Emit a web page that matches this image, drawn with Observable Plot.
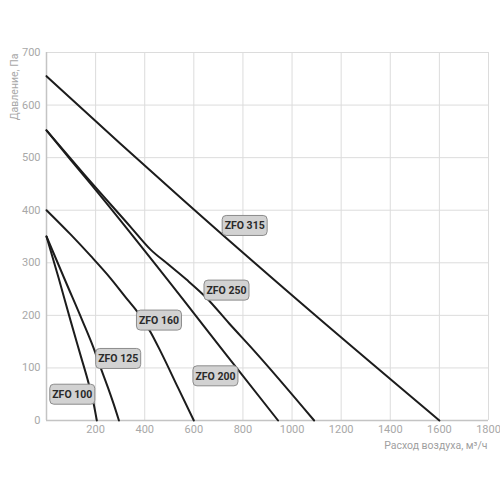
<!DOCTYPE html>
<html>
<head>
<meta charset="utf-8">
<script src="https://cdn.jsdelivr.net/npm/d3@7"></script>
<script src="https://cdn.jsdelivr.net/npm/@observablehq/plot@0.6"></script>
<style>
  html, body { margin: 0; padding: 0; background: #fff; }
</style>
</head>
<body>
<div id="chart"></div>
<script>
// Flow (m³/h) and pressure (Pa) for each fan curve
const zfo100Flow = [0, 50, 98, 140, 172, 192, 205];
const zfo100Pressure = [350, 270, 190, 122, 70, 32, 0];

const zfo125Flow = [0, 80, 146, 190, 220, 250, 273, 295];
const zfo125Pressure = [350, 262, 190, 140, 101, 63, 32, 0];

const zfo160Flow = [0, 100, 180, 260, 330, 365, 424, 465, 535, 600];
const zfo160Pressure = [400, 353, 313, 271, 230, 210, 168, 131, 63, 0];

const zfo200Flow = [0, 100, 180, 560, 722, 943];
const zfo200Pressure = [552, 495, 450, 228, 131, 0];

const zfo250Flow = [0, 150, 343, 424, 493, 570, 650, 745, 845, 1090];
const zfo250Pressure = [552, 470, 368, 325, 298, 268, 234, 184, 133, 0];

const zfo315Flow = [0, 300, 560, 1040, 1600];
const zfo315Pressure = [655, 527, 418, 222, 0];

// Label boxes
const labelNames = ["ZFO 100", "ZFO 125", "ZFO 160", "ZFO 200", "ZFO 250", "ZFO 315"];
const labelFlow = [105, 292, 458, 688, 733, 807];
const labelPressure = [50, 118, 191, 85, 248, 371];

const xTicks = [200, 400, 600, 800, 1000, 1200, 1400, 1600, 1800];
const yTicks = [0, 100, 200, 300, 400, 500, 600, 700];
const xLabel = "Расход воздуха, м³/ч";
const yLabel = "Давление, Па";

const seriesDefs = [
  ["ZFO 100", zfo100Flow, zfo100Pressure],
  ["ZFO 125", zfo125Flow, zfo125Pressure],
  ["ZFO 160", zfo160Flow, zfo160Pressure],
  ["ZFO 200", zfo200Flow, zfo200Pressure],
  ["ZFO 250", zfo250Flow, zfo250Pressure],
  ["ZFO 315", zfo315Flow, zfo315Pressure]
];
const curves = seriesDefs.flatMap(([name, fx, py]) => fx.map((f, i) => ({name, flow: f, pressure: py[i]})));
const labels = labelNames.map((n, i) => ({name: n, flow: labelFlow[i], pressure: labelPressure[i]}));

// rounded-rectangle symbol for the label boxes
const roundRect = {
  draw(ctx) {
    const w = 45, h = 20, r = 4;
    const x0 = -w / 2, x1 = w / 2, y0 = -h / 2, y1 = h / 2;
    ctx.moveTo(x0 + r, y0);
    ctx.lineTo(x1 - r, y0);
    ctx.arcTo(x1, y0, x1, y0 + r, r);
    ctx.lineTo(x1, y1 - r);
    ctx.arcTo(x1, y1, x1 - r, y1, r);
    ctx.lineTo(x0 + r, y1);
    ctx.arcTo(x0, y1, x0, y1 - r, r);
    ctx.lineTo(x0, y0 + r);
    ctx.arcTo(x0, y0, x0 + r, y0, r);
    ctx.closePath();
  }
};

const chart = Plot.plot({
  width: 500,
  height: 500,
  marginLeft: 46,
  marginRight: 12,
  marginTop: 52,
  marginBottom: 80,
  style: {fontFamily: "Roboto, 'DejaVu Sans', sans-serif", fontSize: "11px", background: "#fff", overflow: "visible"},
  x: {domain: [0, 1800]},
  y: {domain: [0, 700]},
  marks: [
    Plot.gridX(xTicks, {stroke: "#dcdcdc", strokeOpacity: 1, strokeWidth: 1}),
    Plot.gridY(yTicks, {stroke: "#dcdcdc", strokeOpacity: 1, strokeWidth: 1}),
    Plot.ruleX([0], {stroke: "#c4c4c4", strokeWidth: 1.5}),
    Plot.ruleY([0], {stroke: "#c4c4c4", strokeWidth: 1.5}),
    Plot.axisX(xTicks, {tickSize: 0, tickPadding: 5, tickFormat: "d", fill: "#a8a8a8", fontSize: 11, label: null}),
    Plot.axisY(yTicks, {tickSize: 0, tickPadding: 6, tickFormat: "d", fill: "#a8a8a8", fontSize: 11, label: null}),
    Plot.line(curves, {x: "flow", y: "pressure", z: "name", stroke: "#1c1c1c", strokeWidth: 2, curve: "monotone-x"}),
    Plot.dot(labels, {x: "flow", y: "pressure", symbol: roundRect, r: 10, fill: "#d2d2d2", stroke: "#8c8c8c", strokeWidth: 1}),
    Plot.text(labels, {x: "flow", y: "pressure", text: "name", fill: "#2a2a2a", fontSize: 10.5, fontWeight: "bold", dy: 0.5}),
    Plot.text([yLabel], {frameAnchor: "top-left", rotate: -90, textAnchor: "end", dx: -36, dy: 1, fill: "#a8a8a8", fontSize: 10.5}),
    Plot.text([xLabel], {frameAnchor: "bottom-right", textAnchor: "end", dy: 28, dx: -1, fill: "#a0a0a0", fontSize: 10.5})
  ]
});
document.getElementById("chart").appendChild(chart);
</script>
</body>
</html>
